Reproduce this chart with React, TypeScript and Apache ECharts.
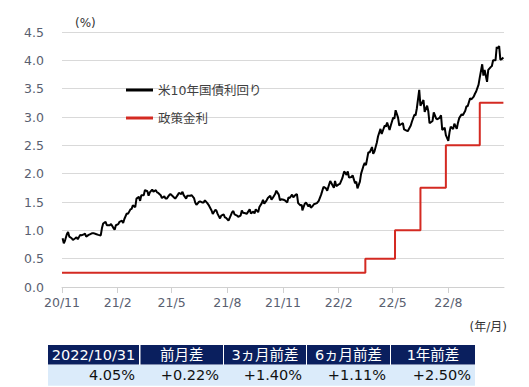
import React, { useEffect, useRef } from "react";
import * as echarts from "echarts";

// US 10-year Treasury yield (%)
const yieldData: [string, number][] = [
  ["2020-11-02",0.86],["2020-11-04",0.77],["2020-11-06",0.82],["2020-11-09",0.93],["2020-11-11",0.97],["2020-11-13",0.89],["2020-11-17",0.86],["2020-11-19",0.83],["2020-11-23",0.86],["2020-11-25",0.88],["2020-11-27",0.84],
  ["2020-12-01",0.92],["2020-12-03",0.91],["2020-12-07",0.93],["2020-12-09",0.94],["2020-12-11",0.89],["2020-12-15",0.92],["2020-12-17",0.93],["2020-12-21",0.95],["2020-12-23",0.95],["2020-12-28",0.93],["2020-12-31",0.92],
  ["2021-01-04",0.91],["2021-01-06",1.04],["2021-01-08",1.12],["2021-01-12",1.15],["2021-01-14",1.09],["2021-01-19",1.09],["2021-01-21",1.11],["2021-01-25",1.04],["2021-01-27",1.01],["2021-01-29",1.09],
  ["2021-02-02",1.11],["2021-02-04",1.15],["2021-02-08",1.17],["2021-02-10",1.13],["2021-02-12",1.20],["2021-02-16",1.30],["2021-02-18",1.29],["2021-02-22",1.37],["2021-02-24",1.38],["2021-02-26",1.44],
  ["2021-03-02",1.41],["2021-03-04",1.56],["2021-03-08",1.59],["2021-03-10",1.52],["2021-03-12",1.62],["2021-03-16",1.62],["2021-03-18",1.71],["2021-03-22",1.69],["2021-03-24",1.61],["2021-03-26",1.67],["2021-03-30",1.72],
  ["2021-04-01",1.68],["2021-04-05",1.71],["2021-04-07",1.67],["2021-04-09",1.66],["2021-04-13",1.62],["2021-04-15",1.57],["2021-04-19",1.60],["2021-04-21",1.56],["2021-04-23",1.56],["2021-04-27",1.62],["2021-04-29",1.64],
  ["2021-05-03",1.60],["2021-05-05",1.58],["2021-05-07",1.56],["2021-05-11",1.62],["2021-05-13",1.66],["2021-05-17",1.64],["2021-05-19",1.68],["2021-05-21",1.62],["2021-05-25",1.56],["2021-05-27",1.61],
  ["2021-06-01",1.61],["2021-06-03",1.62],["2021-06-07",1.57],["2021-06-09",1.49],["2021-06-11",1.45],["2021-06-15",1.50],["2021-06-17",1.51],["2021-06-21",1.49],["2021-06-23",1.49],["2021-06-25",1.53],["2021-06-29",1.48],
  ["2021-07-01",1.45],["2021-07-06",1.35],["2021-07-08",1.29],["2021-07-12",1.36],["2021-07-14",1.35],["2021-07-16",1.29],["2021-07-20",1.21],["2021-07-22",1.26],["2021-07-26",1.28],["2021-07-28",1.23],["2021-07-30",1.22],
  ["2021-08-03",1.17],["2021-08-05",1.22],["2021-08-09",1.32],["2021-08-11",1.34],["2021-08-13",1.28],["2021-08-17",1.26],["2021-08-19",1.24],["2021-08-23",1.26],["2021-08-25",1.35],["2021-08-27",1.31],["2021-08-31",1.30],
  ["2021-09-02",1.29],["2021-09-07",1.37],["2021-09-09",1.30],["2021-09-13",1.33],["2021-09-15",1.30],["2021-09-17",1.37],["2021-09-21",1.32],["2021-09-23",1.41],["2021-09-27",1.48],["2021-09-29",1.54],
  ["2021-10-01",1.47],["2021-10-05",1.53],["2021-10-07",1.57],["2021-10-11",1.61],["2021-10-13",1.54],["2021-10-15",1.57],["2021-10-19",1.64],["2021-10-21",1.70],["2021-10-25",1.63],["2021-10-27",1.53],["2021-10-29",1.55],
  ["2021-11-02",1.54],["2021-11-04",1.53],["2021-11-08",1.49],["2021-11-10",1.58],["2021-11-12",1.57],["2021-11-16",1.63],["2021-11-18",1.58],["2021-11-22",1.63],["2021-11-24",1.64],["2021-11-26",1.48],["2021-11-30",1.44],
  ["2021-12-02",1.45],["2021-12-03",1.35],["2021-12-07",1.47],["2021-12-09",1.49],["2021-12-13",1.42],["2021-12-15",1.46],["2021-12-17",1.40],["2021-12-20",1.43],["2021-12-22",1.46],["2021-12-27",1.48],["2021-12-30",1.52],
  ["2022-01-03",1.63],["2022-01-05",1.70],["2022-01-07",1.77],["2022-01-11",1.74],["2022-01-13",1.70],["2022-01-18",1.87],["2022-01-20",1.83],["2022-01-24",1.75],["2022-01-26",1.87],["2022-01-28",1.78],
  ["2022-02-01",1.81],["2022-02-03",1.82],["2022-02-07",1.92],["2022-02-10",2.04],["2022-02-14",1.98],["2022-02-16",2.04],["2022-02-18",1.93],["2022-02-22",1.94],["2022-02-24",1.97],["2022-02-28",1.83],
  ["2022-03-02",1.86],["2022-03-04",1.74],["2022-03-08",1.86],["2022-03-10",2.00],["2022-03-14",2.14],["2022-03-16",2.19],["2022-03-18",2.15],["2022-03-22",2.38],["2022-03-24",2.37],["2022-03-28",2.47],["2022-03-30",2.35],
  ["2022-04-01",2.39],["2022-04-05",2.55],["2022-04-07",2.66],["2022-04-11",2.79],["2022-04-13",2.70],["2022-04-18",2.85],["2022-04-20",2.83],["2022-04-22",2.90],["2022-04-26",2.77],["2022-04-28",2.85],
  ["2022-05-02",2.99],["2022-05-04",2.97],["2022-05-06",3.12],["2022-05-10",2.99],["2022-05-12",2.85],["2022-05-16",2.88],["2022-05-18",2.89],["2022-05-20",2.78],["2022-05-24",2.76],["2022-05-26",2.75],["2022-05-31",2.85],
  ["2022-06-02",2.92],["2022-06-06",3.04],["2022-06-08",3.03],["2022-06-10",3.15],["2022-06-14",3.48],["2022-06-16",3.20],["2022-06-21",3.30],["2022-06-23",3.09],["2022-06-27",3.20],["2022-06-29",3.10],
  ["2022-07-01",2.89],["2022-07-06",2.93],["2022-07-08",3.08],["2022-07-12",2.97],["2022-07-14",2.96],["2022-07-18",2.99],["2022-07-20",3.03],["2022-07-22",2.77],["2022-07-26",2.81],["2022-07-28",2.68],
  ["2022-08-01",2.58],["2022-08-03",2.73],["2022-08-05",2.83],["2022-08-09",2.79],["2022-08-11",2.88],["2022-08-15",2.79],["2022-08-17",2.90],["2022-08-19",2.98],["2022-08-23",3.05],["2022-08-25",3.03],["2022-08-29",3.11],["2022-08-31",3.19],
  ["2022-09-02",3.19],["2022-09-06",3.33],["2022-09-08",3.31],["2022-09-12",3.36],["2022-09-14",3.41],["2022-09-16",3.45],["2022-09-20",3.57],["2022-09-22",3.70],["2022-09-26",3.93],["2022-09-28",3.73],["2022-09-30",3.83],
  ["2022-10-04",3.62],["2022-10-06",3.83],["2022-10-10",3.88],["2022-10-12",3.90],["2022-10-14",4.00],["2022-10-18",4.00],["2022-10-20",4.24],["2022-10-21",4.21],["2022-10-24",4.25],["2022-10-26",4.01],["2022-10-28",4.02],["2022-10-31",4.05],
];

// Policy rate (upper bound, %) change dates
const policyDates = ["2020-11-01", "2022-03-17", "2022-05-05", "2022-06-16", "2022-07-28", "2022-09-22", "2022-10-31"];
const policyValues = [0.25, 0.5, 1.0, 1.75, 2.5, 3.25, 3.25];

const seriesNames = ["米10年国債利回り", "政策金利"];
const xTickDates = ["2020-11-01", "2021-02-01", "2021-05-01", "2021-08-01", "2021-11-01", "2022-02-01", "2022-05-01", "2022-08-01"];
const xMin = "2020-11-01";
const xMax = "2022-11-01";

const tableHeaders = ["2022/10/31", "前月差", "3ヵ月前差", "6ヵ月前差", "1年前差"];
const tableValues = ["4.05%", "+0.22%", "+1.40%", "+1.11%", "+2.50%"];

const FONT = "'DejaVu Sans', 'Noto Sans CJK JP', sans-serif";
const LABEL_COLOR = "#596070";

function toTs(s: string): number {
  const [y, m, d] = s.split("-").map(Number);
  return new Date(y, m - 1, d).getTime();
}

export default function App() {
  const ref = useRef<HTMLDivElement>(null);
  useEffect(() => {
    if (!ref.current) return;
    const chart = echarts.init(ref.current, undefined, { renderer: "svg" });

    const colX = [48, 140.5, 224, 307, 391];
    const colW = [91, 82.5, 82, 83, 84];
    const headerY = 345;
    const headerH = 19.5;
    const rowY = 364.8;
    const rowH = 21;

    const tableGraphics: any[] = [
      { type: "rect", shape: { x: 48, y: rowY, width: 427, height: rowH }, style: { fill: "#dbebfa" } },
    ];
    tableHeaders.forEach((h, i) => {
      tableGraphics.push({ type: "rect", shape: { x: colX[i], y: headerY, width: colW[i], height: headerH }, style: { fill: "#0a1f5e" } });
      tableGraphics.push({
        type: "text", x: colX[i] + colW[i] / 2, y: headerY + headerH / 2 + 0.5,
        style: { text: h, fill: "#ffffff", font: `14.5px ${FONT}`, align: "center", verticalAlign: "middle" },
      });
      tableGraphics.push({
        type: "text", x: colX[i] + colW[i] - 4, y: rowY + rowH / 2,
        style: { text: tableValues[i], fill: "#111111", font: `14.5px ${FONT}`, align: "right", verticalAlign: "middle" },
      });
    });

    const tickTs = xTickDates.map(toTs);

    const option: any = {
      animation: false,
      backgroundColor: "#ffffff",
      grid: { left: 62, right: 25, top: 32, bottom: 100, containLabel: false },
      legend: {
        orient: "vertical",
        left: 121,
        top: 77,
        itemWidth: 27,
        itemHeight: 3,
        itemGap: 12,
        icon: "rect",
        data: seriesNames,
        textStyle: { fontFamily: FONT, fontSize: 12.5, color: "#404040", lineHeight: 16 },
      },
      xAxis: {
        type: "value",
        min: toTs(xMin),
        max: toTs(xMax),
        axisLine: { lineStyle: { color: "#d0d0d0", width: 1 } },
        axisTick: { show: true, length: 6, lineStyle: { color: "#d0d0d0" }, customValues: tickTs },
        axisLabel: {
          customValues: tickTs,
          formatter: (v: number) => {
            const d = new Date(v);
            return `${String(d.getFullYear()).slice(2)}/${d.getMonth() + 1}`;
          },
          fontFamily: FONT,
          fontSize: 12.5,
          color: LABEL_COLOR,
          margin: 9,
          hideOverlap: false,
        },
        splitLine: { show: false },
      },
      yAxis: {
        type: "value",
        min: 0,
        max: 4.5,
        interval: 0.5,
        axisLine: { show: false },
        axisTick: { show: false },
        axisLabel: { formatter: (v: number) => v.toFixed(1), fontFamily: FONT, fontSize: 12.5, color: LABEL_COLOR, margin: 18 },
        splitLine: { lineStyle: { color: "#d9d9d9", width: 1 } },
      },
      series: [
        {
          name: seriesNames[0],
          type: "line",
          data: yieldData.map(([d, v]) => [toTs(d), v]),
          showSymbol: false,
          symbol: "none",
          lineStyle: { color: "#000000", width: 2 },
          itemStyle: { color: "#000000" },
          z: 3,
        },
        {
          name: seriesNames[1],
          type: "line",
          step: "end",
          data: policyDates.map((d, i) => [toTs(d), policyValues[i]]),
          showSymbol: false,
          symbol: "none",
          lineStyle: { color: "#d42a22", width: 2 },
          itemStyle: { color: "#d42a22" },
          z: 2,
        },
      ],
      graphic: [
        { type: "text", x: 75, y: 23, style: { text: "(%)", fill: "#333333", font: `12px ${FONT}`, verticalAlign: "middle" } },
        { type: "text", x: 507, y: 327, style: { text: "(年/月)", fill: "#333333", font: `12px ${FONT}`, align: "right", verticalAlign: "middle" } },
        ...tableGraphics,
      ],
    };
    chart.setOption(option);
    return () => chart.dispose();
  }, []);

  return <div ref={ref} style={{ position: "fixed", left: 0, top: 0, width: 529, height: 387 }} />;
}
